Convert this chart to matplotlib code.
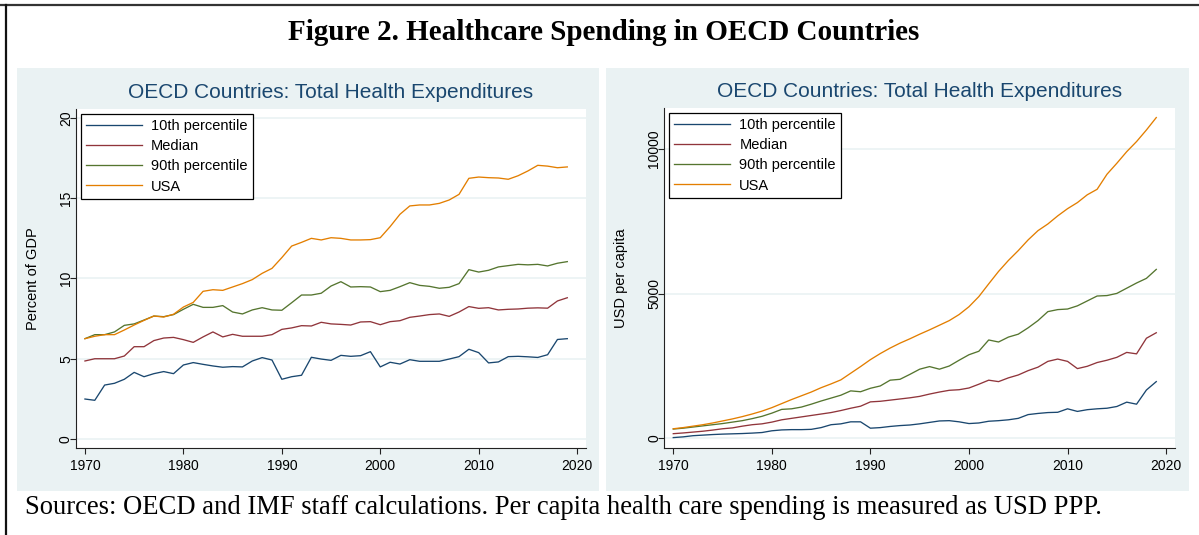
import matplotlib

matplotlib.use("Agg")
import matplotlib.pyplot as plt
from matplotlib.patches import Rectangle
from matplotlib.lines import Line2D

years = list(range(1970, 2020))

# Percent of GDP
gdp_p10 = [2.49, 2.41, 3.36, 3.47, 3.72, 4.15, 3.88, 4.07, 4.20, 4.07,
           4.61, 4.76, 4.65, 4.55, 4.47, 4.51, 4.49, 4.86, 5.07, 4.92,
           3.72, 3.88, 3.97, 5.09, 4.98, 4.90, 5.21, 5.15, 5.19, 5.44,
           4.49, 4.78, 4.67, 4.94, 4.84, 4.84, 4.84, 4.98, 5.13, 5.59,
           5.38, 4.74, 4.80, 5.13, 5.15, 5.12, 5.08, 5.25, 6.20, 6.25]
gdp_median = [4.86, 5.00, 5.00, 5.00, 5.17, 5.75, 5.75, 6.13, 6.29, 6.33,
              6.19, 6.02, 6.36, 6.67, 6.36, 6.52, 6.40, 6.40, 6.40, 6.50,
              6.83, 6.92, 7.06, 7.04, 7.27, 7.17, 7.14, 7.10, 7.29, 7.31,
              7.12, 7.31, 7.37, 7.58, 7.66, 7.75, 7.79, 7.64, 7.91, 8.25,
              8.14, 8.18, 8.04, 8.08, 8.10, 8.15, 8.17, 8.15, 8.60, 8.80]
gdp_p90 = [6.25, 6.50, 6.50, 6.67, 7.08, 7.17, 7.41, 7.66, 7.62, 7.75,
           8.08, 8.39, 8.20, 8.20, 8.31, 7.91, 7.79, 8.04, 8.18, 8.04,
           8.02, 8.49, 8.97, 8.97, 9.08, 9.53, 9.80, 9.47, 9.49, 9.47,
           9.18, 9.26, 9.49, 9.74, 9.57, 9.51, 9.39, 9.45, 9.68, 10.55,
           10.40, 10.51, 10.72, 10.80, 10.88, 10.85, 10.88, 10.78, 10.95, 11.05]
gdp_usa = [6.25, 6.40, 6.50, 6.50, 6.79, 7.10, 7.39, 7.66, 7.60, 7.77,
           8.22, 8.51, 9.20, 9.30, 9.26, 9.47, 9.68, 9.93, 10.32, 10.63,
           11.30, 12.02, 12.25, 12.50, 12.40, 12.54, 12.50, 12.40, 12.40, 12.42,
           12.54, 13.23, 14.00, 14.52, 14.58, 14.58, 14.68, 14.89, 15.24, 16.24,
           16.32, 16.28, 16.26, 16.18, 16.40, 16.70, 17.05, 17.00, 16.90, 16.95]

# USD per capita
usd_p10 = [25, 50, 90, 110, 130, 145, 155, 165, 180, 200,
           260, 290, 300, 300, 310, 370, 470, 500, 570, 570,
           350, 370, 410, 440, 460, 500, 550, 600, 610, 570,
           510, 530, 590, 610, 640, 690, 820, 860, 890, 900,
           1020, 930, 990, 1020, 1040, 1100, 1250, 1180, 1670, 1960]
usd_median = [160, 185, 215, 245, 285, 330, 360, 420, 470, 500,
              560, 640, 690, 740, 790, 840, 890, 960, 1040, 1110,
              1260, 1280, 1320, 1360, 1400, 1450, 1530, 1600, 1660, 1680,
              1740, 1870, 2010, 1960, 2090, 2190, 2340, 2460, 2660, 2740,
              2660, 2410, 2490, 2620, 2700, 2800, 2970, 2920, 3460, 3650]
usd_p90 = [320, 350, 390, 430, 470, 510, 560, 610, 680, 760,
           870, 1000, 1020, 1080, 1180, 1290, 1390, 1490, 1640, 1610,
           1730, 1810, 2010, 2040, 2210, 2390, 2480, 2390, 2500, 2700,
           2890, 3010, 3400, 3330, 3500, 3600, 3820, 4070, 4380, 4450,
           4470, 4580, 4750, 4920, 4935, 5010, 5190, 5370, 5530, 5840]
usd_usa = [330, 370, 420, 470, 530, 600, 670, 750, 840, 940,
           1060, 1200, 1340, 1470, 1600, 1750, 1880, 2020, 2250, 2480,
           2720, 2930, 3120, 3290, 3440, 3600, 3750, 3910, 4070, 4280,
           4550, 4900, 5340, 5770, 6150, 6490, 6860, 7180, 7410, 7690,
           7940, 8150, 8420, 8610, 9130, 9510, 9910, 10260, 10660, 11090]

series_names = ["10th percentile", "Median", "90th percentile", "USA"]
series_colors = ["#1a476f", "#90353b", "#55752f", "#e37e00"]

PANEL_BG = "#eaf2f3"
TITLE_COLOR = "#1a476f"
SANS = "Liberation Sans"
SERIF = "Liberation Serif"

W, H = 1199, 535
fig = plt.figure(figsize=(W / 100, H / 100), dpi=100)


def px_box(x0, y0, x1, y1):
    # pixel box (top-left origin) -> figure fraction [l, b, w, h]
    return [x0 / W, 1 - y1 / H, (x1 - x0) / W, (y1 - y0) / H]


# outer frame lines
fig.add_artist(Line2D([0, 1], [1 - 5 / H, 1 - 5 / H], color="#333333", lw=1.6,
                      transform=fig.transFigure))
fig.add_artist(Line2D([6 / W, 6 / W], [0, 1 - 5 / H], color="#111111", lw=1.6,
                      transform=fig.transFigure))

# panel backgrounds
for box in [(17, 68, 599, 491), (606, 68, 1189, 491)]:
    l, b, w, h = px_box(*box)
    fig.add_artist(Rectangle((l, b), w, h, transform=fig.transFigure,
                             facecolor=PANEL_BG, edgecolor="none", zorder=0))

panels = [
    {
        "box": (75.7, 109.3, 586, 448.3),
        "series": [gdp_p10, gdp_median, gdp_p90, gdp_usa],
        "ylim": (-0.58, 20.54),
        "yticks": [0, 5, 10, 15, 20],
        "ylabel": "Percent of GDP",
    },
    {
        "box": (664, 108.3, 1175, 448),
        "series": [usd_p10, usd_median, usd_p90, usd_usa],
        "ylim": (-335, 11410),
        "yticks": [0, 5000, 10000],
        "ylabel": "USD per capita",
    },
]

for panel in panels:
    ax = fig.add_axes(px_box(*panel["box"]))
    ax.set_facecolor("white")
    for name, color, values in zip(series_names, series_colors, panel["series"]):
        ax.plot(years, values, color=color, lw=0.95, label=name, zorder=3)

    ax.set_xlim(1969.06, 2020.9)
    ax.set_ylim(*panel["ylim"])
    ax.set_xticks([1970, 1980, 1990, 2000, 2010, 2020])
    ax.set_yticks(panel["yticks"])
    ax.grid(axis="y", color=PANEL_BG, lw=1.2, zorder=1)
    ax.set_axisbelow(True)

    for side in ["top", "right"]:
        ax.spines[side].set_visible(False)
    for side in ["left", "bottom"]:
        ax.spines[side].set_color("#222222")
        ax.spines[side].set_linewidth(0.8)

    ax.tick_params(axis="both", direction="out", length=4, width=0.8,
                   color="#222222", labelsize=10)
    ax.tick_params(axis="x", pad=4)
    ax.tick_params(axis="y", pad=3)
    for lab in ax.get_yticklabels():
        lab.set_rotation(90)
        lab.set_va("center")
        lab.set_ha("center")
        lab.set_family(SANS)
    for lab in ax.get_xticklabels():
        lab.set_family(SANS)

    ax.set_ylabel(panel["ylabel"], fontsize=10.5, family=SANS)
    ax.yaxis.set_label_coords(-0.07, 0.5)

    ax.set_title("OECD Countries: Total Health Expenditures", fontsize=15,
                 color=TITLE_COLOR, family=SANS, pad=8)

    leg = ax.legend(loc="upper left", bbox_to_anchor=(0.0105, 0.986),
                    borderaxespad=0, frameon=True, fancybox=False,
                    edgecolor="black", framealpha=1, handlelength=3.8,
                    handletextpad=0.65, labelspacing=0.42, borderpad=0.35,
                    prop={"family": SANS, "size": 10.5})
    leg.get_frame().set_linewidth(0.9)

fig.text(604 / W, 1 - 33 / H, "Figure 2. Healthcare Spending in OECD Countries",
         ha="center", va="center", fontsize=21, fontweight="bold", family=SERIF)
fig.text(25 / W, 1 - 508 / H,
         "Sources: OECD and IMF staff calculations. Per capita health care spending is measured as USD PPP.",
         ha="left", va="center", fontsize=19.2, family=SERIF)

fig.savefig("out.png", dpi=100)
